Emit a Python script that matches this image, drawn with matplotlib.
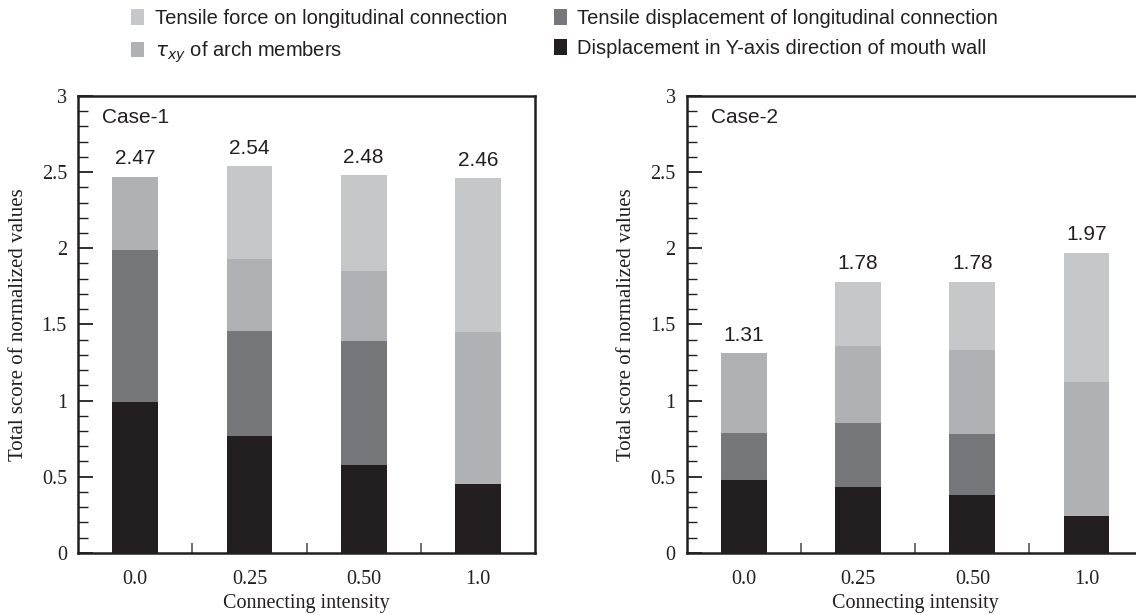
import matplotlib
matplotlib.use("Agg")
import matplotlib.pyplot as plt
import numpy as np
from matplotlib.patches import Patch
from matplotlib.ticker import MultipleLocator, FuncFormatter, FixedLocator

categories = ["0.0", "0.25", "0.50", "1.0"]
series_names = [
    "Displacement in Y-axis direction of mouth wall",
    "Tensile displacement of longitudinal connection",
    r"$\tau_{xy}$ of arch members",
    "Tensile force on longitudinal connection",
]
colors = ["#231f20", "#76777b", "#b0b1b4", "#c6c7c9"]

# Case-1 components (bottom to top)
case1_disp_y = [0.99, 0.77, 0.58, 0.45]
case1_tens_disp = [1.00, 0.69, 0.81, 0.00]
case1_tau = [0.48, 0.47, 0.46, 1.00]
case1_tens_force = [0.00, 0.61, 0.63, 1.01]
case1_totals = ["2.47", "2.54", "2.48", "2.46"]

# Case-2 components (bottom to top)
case2_disp_y = [0.48, 0.43, 0.38, 0.24]
case2_tens_disp = [0.31, 0.42, 0.40, 0.00]
case2_tau = [0.52, 0.51, 0.55, 0.88]
case2_tens_force = [0.00, 0.42, 0.45, 0.85]
case2_totals = ["1.31", "1.78", "1.78", "1.97"]

SERIF = ["Liberation Serif", "DejaVu Serif"]
SANS = ["Liberation Sans", "DejaVu Sans"]
INK = "#231f20"

fig = plt.figure(figsize=(11.36, 6.15), dpi=100)

def draw(ax, data, totals, title, show_right=True):
    x = np.arange(len(categories))
    bottom = np.zeros(len(categories))
    for vals, c in zip(data, colors):
        ax.bar(x, vals, width=0.4, bottom=bottom, color=c, edgecolor="none", zorder=2)
        bottom = bottom + np.array(vals)
    for xi, b, t in zip(x, bottom, totals):
        ax.annotate(t, (xi, b), xytext=(0, 6), textcoords="offset points",
                    ha="center", va="bottom", fontsize=15, family=SANS, color=INK)
    ax.text(0.053, 0.952, title, transform=ax.transAxes, ha="left", va="center",
            fontsize=15, family=SANS, color=INK)
    ax.set_xlim(-0.5, 3.5)
    ax.set_ylim(0, 3)
    ax.set_xticks(x)
    ax.set_xticklabels(categories, family=SERIF, fontsize=14.5, color=INK)
    ax.xaxis.set_minor_locator(FixedLocator([0.5, 1.5, 2.5]))
    ax.tick_params(axis="x", which="major", length=0, pad=12)
    ax.tick_params(axis="x", which="minor", direction="in", length=7, width=1.2, color="#555555")
    ax.yaxis.set_major_locator(MultipleLocator(0.5))
    ax.yaxis.set_minor_locator(MultipleLocator(0.1))
    ax.yaxis.set_major_formatter(FuncFormatter(lambda v, p: "%g" % v))
    ax.tick_params(axis="y", which="major", direction="in", length=11, width=1.3, color=INK, pad=8,
                   labelsize=14.5, labelcolor=INK)
    ax.tick_params(axis="y", which="minor", direction="in", length=7, width=1.0, color=INK)
    for lab in ax.get_yticklabels():
        lab.set_family(SERIF)
    for s in ax.spines.values():
        s.set_linewidth(1.8)
        s.set_color(INK)
    if not show_right:
        ax.spines["right"].set_visible(False)
    ax.set_xlabel("Connecting intensity", family=SERIF, fontsize=14.5, color=INK, labelpad=4)
    ax.set_ylabel("Total score of normalized values", family=SERIF, fontsize=15, color=INK, labelpad=10)

ax1 = fig.add_axes([0.0687, 0.101, 0.4023, 0.743])
ax2 = fig.add_axes([0.6045, 0.101, 0.4023, 0.743])
draw(ax1, [case1_disp_y, case1_tens_disp, case1_tau, case1_tens_force], case1_totals, "Case-1")
draw(ax2, [case2_disp_y, case2_tens_disp, case2_tau, case2_tens_force], case2_totals, "Case-2",
     show_right=False)

handles = [Patch(facecolor=colors[3], edgecolor="none", label=series_names[3]),
           Patch(facecolor=colors[2], edgecolor="none", label=series_names[2]),
           Patch(facecolor=colors[1], edgecolor="none", label=series_names[1]),
           Patch(facecolor=colors[0], edgecolor="none", label=series_names[0])]
leg = fig.legend(handles=handles, ncol=2, loc="upper left", bbox_to_anchor=(0.105, 1.005),
                 frameon=False, prop={"family": SANS, "size": 14.5}, handlelength=0.65,
                 handleheight=0.8, handletextpad=0.5, columnspacing=2.35, labelspacing=0.55,
                 borderaxespad=0.2)
for t in leg.get_texts():
    t.set_color(INK)

fig.savefig("out.png", dpi=100)
